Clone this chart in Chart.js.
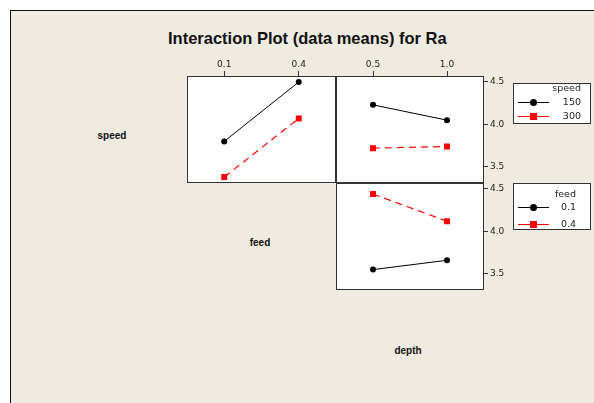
<!DOCTYPE html>
<html>
<head>
<meta charset="utf-8">
<script src="https://cdn.jsdelivr.net/npm/chart.js"></script>
<style>
  html, body { margin: 0; padding: 0; background: #fff; }
  #page { position: relative; width: 594px; height: 403px; overflow: hidden; }
  #frame {
    position: absolute; left: 10px; top: 10px; width: 600px; height: 400px;
    background: #efebe1; border-left: 1.5px solid #111; border-top: 1.5px solid #111;
  }
  canvas { position: absolute; }
  .txt { position: absolute; white-space: nowrap; color: #111; }
  .title { font: bold 16.5px "Liberation Sans", Arial, sans-serif; }
  .factor { font: bold 10px "Liberation Sans", Arial, sans-serif; transform: translate(-50%, -50%); }
  .legend { position: absolute; background: #fff; border: 1px solid #333; box-sizing: border-box; }
  .legend span { position: absolute; font: 9.5px "DejaVu Sans", sans-serif; color: #222; line-height: 12px; }
</style>
</head>
<body>
<div id="page">
  <div id="frame"></div>
  <div class="txt title" style="left:168px; top:29px;">Interaction Plot (data means) for Ra</div>
  <div class="txt factor" style="left:112px; top:135px;">speed</div>
  <div class="txt factor" style="left:260px; top:242px;">feed</div>
  <div class="txt factor" style="left:408px; top:350px;">depth</div>

  <canvas id="pSpeedFeed" width="169" height="147" style="left:177px; top:46px;"></canvas>
  <canvas id="pSpeedDepth" width="188" height="147" style="left:326px; top:46px;"></canvas>
  <canvas id="pFeedDepth" width="188" height="127" style="left:326px; top:173px;"></canvas>

  <div id="legSpeed" class="legend" style="left:513px; top:83px; width:78px; height:41px;"></div>
  <div id="legFeed" class="legend" style="left:513px; top:183px; width:78px; height:47px;"></div>
</div>

<script>
// tick labels / levels
const feedTicks = ["0.1", "0.4"];
const depthTicks = ["0.5", "1.0"];
const speedLevels = ["150", "300"];
const feedLevels = ["0.1", "0.4"];
const raTicks = [3.5, 4.0, 4.5];

// mean Ra
const raFeed_speed150 = [3.80, 4.50];
const raFeed_speed300 = [3.38, 4.07];
const raDepth_speed150 = [4.23, 4.05];
const raDepth_speed300 = [3.72, 3.74];
const raDepth_feed01 = [3.55, 3.66];
const raDepth_feed04 = [4.44, 4.12];

const RA_MIN = 3.31, RA_MAX = 4.57;

// black solid circles / red dashed squares, like Minitab
function blackSeries(label, data) {
  return {
    label, data,
    borderColor: "#000", backgroundColor: "#000",
    borderWidth: 1, pointStyle: "circle", pointRadius: 3, pointBorderWidth: 0,
  };
}
function redSeries(label, data) {
  return {
    label, data,
    borderColor: "#ff0000", backgroundColor: "#ff0000",
    borderWidth: 1.2, borderDash: [7, 5], pointStyle: "rect", pointRadius: 4.2, pointBorderWidth: 0,
  };
}

// white panel + dark frame around chart area
const panelFrame = {
  id: "panelFrame",
  beforeDraw(chart) {
    const a = chart.chartArea, ctx = chart.ctx;
    ctx.save();
    ctx.fillStyle = "#fff";
    ctx.fillRect(a.left, a.top, a.right - a.left, a.bottom - a.top);
    ctx.restore();
  },
  afterDraw(chart) {
    const a = chart.chartArea, ctx = chart.ctx;
    ctx.save();
    ctx.strokeStyle = "#333";
    ctx.lineWidth = 1;
    ctx.strokeRect(a.left + 0.5, a.top + 0.5, a.right - a.left - 1, a.bottom - a.top - 1);
    ctx.restore();
  }
};

function makePanel(id, xLabels, datasets, showX, showY) {
  const tickFont = { family: "DejaVu Sans", size: 9 };
  return new Chart(document.getElementById(id), {
    type: "line",
    data: { labels: xLabels, datasets },
    options: {
      responsive: false,
      animation: false,
      devicePixelRatio: 1,
      layout: { padding: { top: 10, bottom: 10, left: 10, right: showY ? 0 : 10 } },
      plugins: { legend: { display: false }, tooltip: { enabled: false } },
      scales: {
        x: {
          type: "category",
          position: "top",
          offset: true,
          display: showX,
          grid: { drawOnChartArea: false, drawTicks: true, tickLength: 5, color: "#333" },
          border: { display: false },
          ticks: { color: "#222", font: tickFont, padding: 1, maxRotation: 0 },
          afterFit: s => { if (showX) s.height = 20; }
        },
        y: {
          type: "linear",
          position: "right",
          min: RA_MIN,
          max: RA_MAX,
          display: showY,
          afterBuildTicks: s => { s.ticks = raTicks.map(v => ({ value: v })); },
          grid: { drawOnChartArea: false, drawTicks: true, tickLength: 4, color: "#333" },
          border: { display: false },
          ticks: { color: "#222", font: tickFont, padding: 2, callback: v => Number(v).toFixed(1) },
          afterFit: s => { if (showY) s.width = 30; }
        }
      }
    },
    plugins: [panelFrame]
  });
}

function buildLegend(id, title, levels, rightX, rowsY) {
  const el = document.getElementById(id);
  const styles = [
    { color: "#000", round: true },
    { color: "#ff0000", round: false }
  ];
  let html = `<span style="right:${78 - rightX}px; top:${rowsY[0] - 6}px;">${title}</span>`;
  levels.forEach((lv, i) => {
    const y = rowsY[i + 1];
    const st = styles[i];
    html += `
      <div style="position:absolute; left:4px; top:${y}px; width:31px; height:1px; background:${st.color};"></div>
      <div style="position:absolute; left:${19 - 3}px; top:${y - 3}px; width:7px; height:7px; background:${st.color}; border-radius:${st.round ? "50%" : "0"};"></div>
      <span style="right:${78 - rightX}px; top:${y - 6}px;">${lv}</span>`;
  });
  el.innerHTML = html;
}

makePanel("pSpeedFeed", feedTicks, [
  blackSeries("150", raFeed_speed150),
  redSeries("300", raFeed_speed300)
], true, false);

makePanel("pSpeedDepth", depthTicks, [
  blackSeries("150", raDepth_speed150),
  redSeries("300", raDepth_speed300)
], true, true);

makePanel("pFeedDepth", depthTicks, [
  blackSeries("0.1", raDepth_feed01),
  redSeries("0.4", raDepth_feed04)
], false, true);

// legend boxes
buildLegend("legSpeed", "speed", speedLevels, 69, [4, 18, 32]);
buildLegend("legFeed", "feed", feedLevels, 64, [10, 23, 40]);
</script>
</body>
</html>
